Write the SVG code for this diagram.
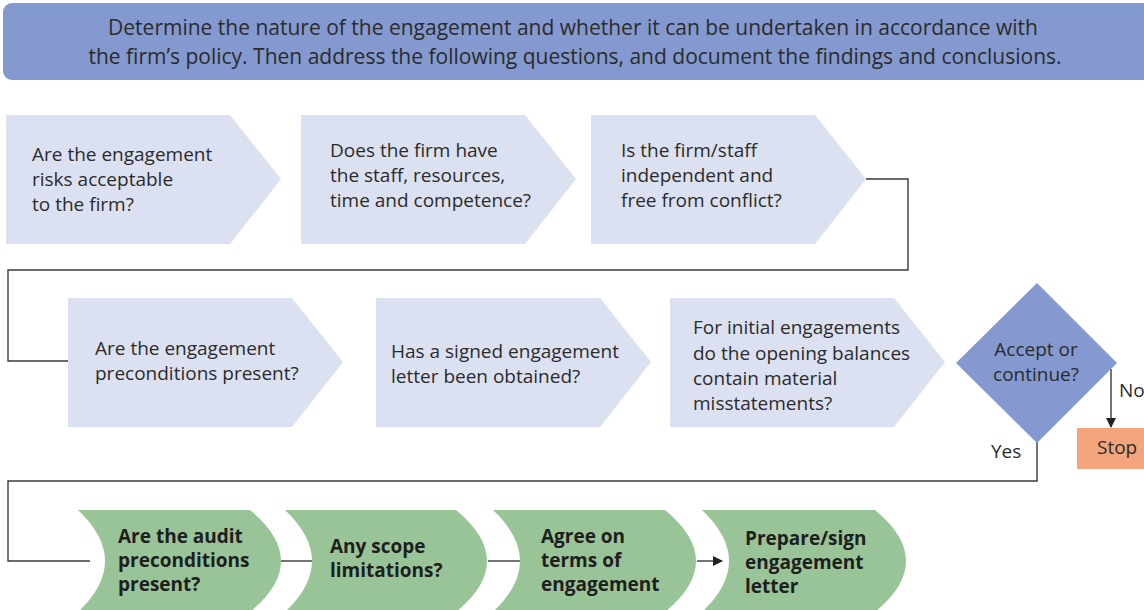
<svg xmlns="http://www.w3.org/2000/svg" width="1144" height="610" viewBox="0 0 1144 610">
<style>
.t{font-family:"Open Sans","Liberation Sans",sans-serif;fill:#2b2b2b;}
.hd{font-size:21px;}
.bx{font-size:19px;}
.gb{font-size:19px;font-weight:bold;fill:#1e1e1e;}
.lav{fill:#dce1f1;}
.grn{fill:#98c497;}
.blu{fill:#8399cf;}
.ln{fill:none;stroke:#3a3a3a;stroke-width:1.4;}
</style>
<defs>
<marker id="ah" markerWidth="10" markerHeight="10" refX="9" refY="5" orient="auto" markerUnits="userSpaceOnUse">
<path d="M0,0 L10,5 L0,10 Z" fill="#222"/>
</marker>
</defs>
<rect width="1144" height="610" fill="#fff"/>

<g id="header">
<rect class="blu" x="3" y="3" width="1160" height="77" rx="9"/>
<text class="t hd" x="573" y="35" text-anchor="middle">Determine the nature of the engagement and whether it can be undertaken in accordance with</text>
<text class="t hd" x="575" y="64" text-anchor="middle">the firm’s policy. Then address the following questions, and document the findings and conclusions.</text>
</g>

<g id="connectors">
<polyline class="ln" points="866,179 908,179 908,270 8,270 8,361 68,361"/>
<polyline class="ln" points="1037,441 1037,481 8,481 8,561 90,561"/>
<line class="ln" x1="281" y1="561" x2="312" y2="561"/>
<line class="ln" x1="488" y1="561" x2="520" y2="561"/>
<line class="ln" x1="697" y1="561" x2="722" y2="561" marker-end="url(#ah)"/>
<line class="ln" x1="1111" y1="369" x2="1111" y2="427" marker-end="url(#ah)"/>
</g>

<g id="n1">
<polygon class="lav" points="6,115 230,115 281,179 230,244 6,244"/>
<text class="t bx" x="32" y="161">Are the engagement</text>
<text class="t bx" x="32" y="186">risks acceptable</text>
<text class="t bx" x="32" y="211">to the firm?</text>
</g>
<g id="n2">
<polygon class="lav" points="301,115 525,115 576,179 525,244 301,244"/>
<text class="t bx" x="330" y="157">Does the firm have</text>
<text class="t bx" x="330" y="182">the staff, resources,</text>
<text class="t bx" x="330" y="207">time and competence?</text>
</g>
<g id="n3">
<polygon class="lav" points="591,115 815,115 866,179 815,244 591,244"/>
<text class="t bx" x="621" y="157">Is the firm/staff</text>
<text class="t bx" x="621" y="182">independent and</text>
<text class="t bx" x="621" y="207">free from conflict?</text>
</g>

<g id="n4">
<polygon class="lav" points="68,298 292,298 343,362 292,427 68,427"/>
<text class="t bx" x="95" y="355">Are the engagement</text>
<text class="t bx" x="95" y="380">preconditions present?</text>
</g>
<g id="n5">
<polygon class="lav" points="376,298 600,298 651,362 600,427 376,427"/>
<text class="t bx" x="391" y="358">Has a signed engagement</text>
<text class="t bx" x="391" y="383">letter been obtained?</text>
</g>
<g id="n6">
<polygon class="lav" points="670,298 894,298 945,362 894,427 670,427"/>
<text class="t bx" x="693" y="334">For initial engagements</text>
<text class="t bx" x="693" y="360">do the opening balances</text>
<text class="t bx" x="693" y="385">contain material</text>
<text class="t bx" x="693" y="410">misstatements?</text>
</g>

<g id="decision">
<polygon class="blu" points="1037,283 1117,363 1037,443 956,363"/>
<text class="t bx" x="1036" y="356" text-anchor="middle">Accept or</text>
<text class="t bx" x="1036" y="381" text-anchor="middle">continue?</text>
</g>
<g id="labels">
<text class="t bx" x="991" y="458">Yes</text>
<text class="t bx" x="1119" y="397">No</text>
</g>
<g id="stop">
<rect x="1077" y="428" width="80" height="41" fill="#f4a57d"/>
<text class="t bx" x="1097" y="454">Stop</text>
</g>

<g id="g1">
<path class="grn" d="M78,510 L250,510 Q312,561 250,612 L78,612 Q132,561 78,510 Z"/>
<text class="t gb" x="118" y="543">Are the audit</text>
<text class="t gb" x="118" y="567">preconditions</text>
<text class="t gb" x="118" y="591">present?</text>
</g>
<g id="g2">
<path class="grn" d="M285,510 L456,510 Q518,561 456,612 L285,612 Q339,561 285,510 Z"/>
<text class="t gb" x="330" y="553">Any scope</text>
<text class="t gb" x="330" y="577">limitations?</text>
</g>
<g id="g3">
<path class="grn" d="M493,510 L665,510 Q727,561 665,612 L493,612 Q547,561 493,510 Z"/>
<text class="t gb" x="541" y="543">Agree on</text>
<text class="t gb" x="541" y="567">terms of</text>
<text class="t gb" x="541" y="591">engagement</text>
</g>
<g id="g4">
<path class="grn" d="M702,510 L875,510 Q937,561 875,612 L702,612 Q756,561 702,510 Z"/>
<text class="t gb" x="745" y="545">Prepare/sign</text>
<text class="t gb" x="745" y="569">engagement</text>
<text class="t gb" x="745" y="593">letter</text>
</g>
</svg>
